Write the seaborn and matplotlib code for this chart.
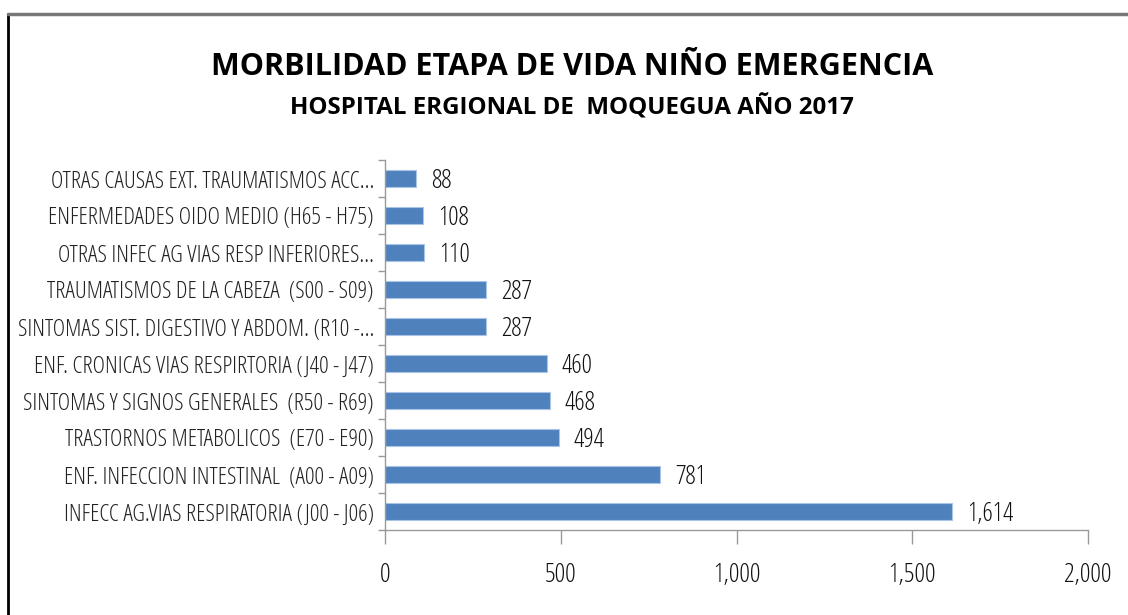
import matplotlib
matplotlib.use("Agg")
import matplotlib.pyplot as plt
import seaborn as sns
import pandas as pd
from matplotlib.lines import Line2D

categories = [
    "OTRAS CAUSAS EXT. TRAUMATISMOS ACC...",
    "ENFERMEDADES OIDO MEDIO (H65 - H75)",
    "OTRAS INFEC AG VIAS RESP INFERIORES...",
    "TRAUMATISMOS DE LA CABEZA  (S00 - S09)",
    "SINTOMAS SIST. DIGESTIVO Y ABDOM. (R10 -...",
    "ENF. CRONICAS VIAS RESPIRTORIA (J40 - J47)",
    "SINTOMAS Y SIGNOS GENERALES  (R50 - R69)",
    "TRASTORNOS METABOLICOS  (E70 - E90)",
    "ENF. INFECCION INTESTINAL  (A00 - A09)",
    "INFECC AG.VIAS RESPIRATORIA (J00 - J06)",
]
values = [88, 108, 110, 287, 287, 460, 468, 494, 781, 1614]
xticks = [0, 500, 1000, 1500, 2000]
title = "MORBILIDAD ETAPA DE VIDA NIÑO EMERGENCIA"
subtitle = "HOSPITAL ERGIONAL DE  MOQUEGUA AÑO 2017"

df = pd.DataFrame({"cat": categories, "val": values})

sns.set_theme(style="white")
fam = ["Open Sans", "DejaVu Sans"]
plt.rcParams["font.family"] = fam

fig = plt.figure(figsize=(11.28, 6.15), dpi=100)
ax = fig.add_axes([385/1128, 1-530/615, 703/1128, 370/615])

sns.barplot(data=df, y="cat", x="val", order=categories, orient="h",
            color="#4F81BD", saturation=1, width=0.45, ax=ax,
            edgecolor="#A9C4E6", linewidth=0.8)

ax.set_xlim(0, 2000)
ax.set_ylim(len(categories)-0.5, -0.5)
ax.set_xticks(xticks)
ax.set_xticklabels([f"{t:,}" for t in xticks], fontsize=19,
                   fontstretch="condensed", fontweight="normal")
ax.set_xlabel("")
ax.set_ylabel("")
ax.set_yticks(range(len(categories)))
ax.set_yticklabels(categories, fontsize=17.2, color="#222222",
                   fontstretch="condensed", fontweight="normal")

ax.set_yticks([i - 0.5 for i in range(len(categories)+1)], minor=True)
ax.tick_params(axis="y", which="major", length=0, pad=8)
ax.tick_params(axis="y", which="minor", length=5, color="#999999", direction="out", width=1)
ax.tick_params(axis="x", which="major", length=10, color="#999999", direction="out",
               width=1, pad=14, labelcolor="#111111")
ax.xaxis.set_ticks_position("bottom")
ax.yaxis.set_ticks_position("left")

for s in ["top", "right"]:
    ax.spines[s].set_visible(False)
for s in ["left", "bottom"]:
    ax.spines[s].set_color("#999999")
    ax.spines[s].set_linewidth(1)

for c in ax.containers:
    anns = ax.bar_label(c, labels=[f"{v:,}" for v in values], padding=11, fontsize=18.5,
                        color="#111111", fontstretch="condensed", fontweight="normal")
    for a in anns:
        a.xyann = (11, -2.5)

fig.text(572/1128, 1-67/615, title, ha="center", va="center", fontsize=22,
         fontweight="bold", fontstretch="condensed", color="black")
fig.text(572/1128, 1-108/615, subtitle, ha="center", va="center", fontsize=17.4,
         fontweight="bold", fontstretch="condensed", color="black")

fig.add_artist(Line2D([8/1128, 8/1128], [0, 1-14/615], transform=fig.transFigure,
                      color="black", linewidth=2))
fig.add_artist(Line2D([8/1128, 1], [1-14/615, 1-14/615], transform=fig.transFigure,
                      color="#777777", linewidth=2.5))

fig.savefig("out.png", dpi=100, facecolor="white")
